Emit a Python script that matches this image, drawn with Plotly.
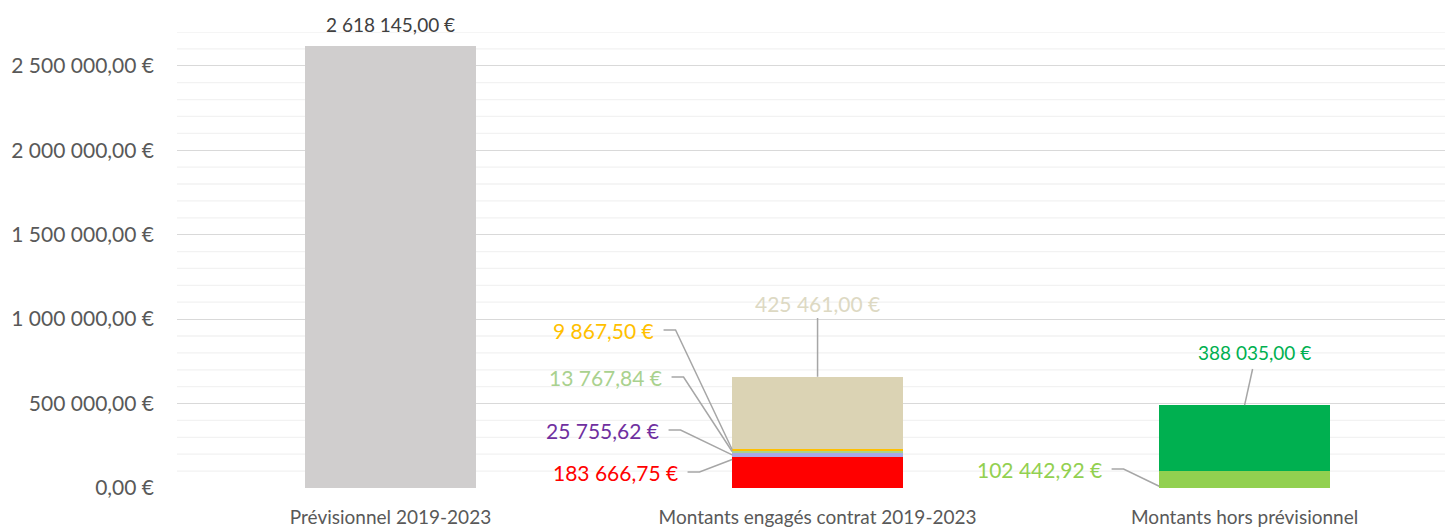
import plotly.graph_objects as go

categories = ["Prévisionnel 2019-2023", "Montants engagés contrat 2019-2023", "Montants hors prévisionnel"]

prev_values = [2618145.00, 0, 0]
red_values = [0, 183666.75, 0]
purple_values = [0, 25755.62, 0]
lightgreen_values = [0, 13767.84, 0]
yellow_values = [0, 9867.50, 0]
beige_values = [0, 425461.00, 0]
hp_light_values = [0, 0, 102442.92]
hp_green_values = [0, 0, 388035.00]

ytick_vals = [0, 500000, 1000000, 1500000, 2000000, 2500000]
ytick_text = ["0,00 €", "500 000,00 €", "1 000 000,00 €", "1 500 000,00 €", "2 000 000,00 €", "2 500 000,00 €"]


def fmt(v):
    s = f"{v:,.2f}"
    ent, dec = s.split(".")
    return ent.replace(",", " ") + "," + dec + " €"


FONT = "Lato"
series = [
    (prev_values, "#d0cece"),
    (red_values, "#ff0000"),
    (purple_values, "#a9a9e4"),
    (lightgreen_values, "#a9d18e"),
    (yellow_values, "#ffc000"),
    (beige_values, "#dbd3b4"),
    (hp_light_values, "#92d050"),
    (hp_green_values, "#00b050"),
]

# page offset (browser body margin) compensation
OFF = 8
xs = [0, 1, 2]
fig = go.Figure()
for vals, col in series:
    fig.add_trace(go.Bar(x=xs, y=vals, marker=dict(color=col, line=dict(width=0)),
                         width=0.4, showlegend=False, hoverinfo="skip"))


def cum_mid(stack, idx, ci):
    base = sum(s[ci] for s in stack[:idx])
    return base + stack[idx][ci] / 2.0


stack2 = [red_values, purple_values, lightgreen_values, yellow_values, beige_values]
stack3 = [hp_light_values, hp_green_values]
top2 = sum(s[1] for s in stack2)
top3 = sum(s[2] for s in stack3)

PXY = 2700000 / 456.0  # value per pixel
PXX = 1.0 / 427.0       # category per pixel
LINE = dict(color="#a6a6a6", width=1.5)
BASE_PX = 488  # page y of zero line
CENTER2_PX = 818

annotations = []
annotations.append(dict(x=0, y=prev_values[0], text=fmt(prev_values[0]), showarrow=False,
                        yshift=21, font=dict(family=FONT, size=19, color="#404040")))

left_labels = [
    (red_values, "#ff0000", 0, 472, 680),
    (purple_values, "#7030a0", 1, 430, 661),
    (lightgreen_values, "#a9d18e", 2, 377, 664),
    (yellow_values, "#ffc000", 3, 330, 656),
]
edge_x = 1 - 0.2
for vals, col, idx, label_y, text_right in left_labels:
    ymid = cum_mid(stack2, idx, 1)
    if idx == 0:
        ymid = vals[1] * 0.92
    label_y_val = (BASE_PX - label_y) * PXY
    tx = 1 + (text_right - CENTER2_PX) * PXX
    fig.add_trace(go.Scatter(x=[tx + 8 * PXX, tx + 20 * PXX, edge_x], y=[label_y_val, label_y_val, ymid],
                             mode="lines", line=LINE, showlegend=False, hoverinfo="skip"))
    annotations.append(dict(x=tx, y=label_y_val, text=fmt(vals[1]), showarrow=False,
                            xanchor="right", font=dict(family=FONT, size=21, color=col)))

beige_label_y = (BASE_PX - 303) * PXY
fig.add_trace(go.Scatter(x=[1, 1], y=[(BASE_PX - 318) * PXY, top2], mode="lines", line=LINE,
                         showlegend=False, hoverinfo="skip"))
annotations.append(dict(x=1, y=beige_label_y, text=fmt(beige_values[1]), showarrow=False,
                        font=dict(family=FONT, size=21, color="#ddd9c3")))

g_label_y = (BASE_PX - 352) * PXY
fig.add_trace(go.Scatter(x=[2 + 8 * PXX, 2], y=[(BASE_PX - 369) * PXY, top3], mode="lines", line=LINE,
                         showlegend=False, hoverinfo="skip"))
annotations.append(dict(x=2 + 10 * PXX, y=g_label_y, text=fmt(hp_green_values[2]), showarrow=False,
                        font=dict(family=FONT, size=19, color="#00b050")))

lg_label_y = (BASE_PX - 469) * PXY
tx3 = 2 + (1104 - 1245) * PXX
fig.add_trace(go.Scatter(x=[tx3 + 8 * PXX, tx3 + 20 * PXX, 2 - 0.2],
                         y=[lg_label_y, lg_label_y, hp_light_values[2] * 0.1],
                         mode="lines", line=LINE, showlegend=False, hoverinfo="skip"))
annotations.append(dict(x=tx3, y=lg_label_y, text=fmt(hp_light_values[2]), showarrow=False,
                        xanchor="right", font=dict(family=FONT, size=21, color="#92d050")))

shapes = []
for k in range(1, 28):
    v = k * 100000
    if v % 500000 == 0:
        continue
    shapes.append(dict(type="line", xref="paper", yref="y", x0=0, x1=1, y0=v, y1=v,
                       line=dict(color="#f2f2f2", width=1.3), layer="below"))

fig.update_layout(
    width=1453 - OFF, height=527 - OFF,
    margin=dict(l=177 - OFF, r=0, t=32 - OFF, b=39, pad=0),
    paper_bgcolor="white", plot_bgcolor="white",
    barmode="stack",
    xaxis=dict(range=[-0.5, 2.488], tickvals=xs, ticktext=categories, showgrid=False,
               zeroline=False, showline=False, ticks="", ticklabelstandoff=16,
               tickfont=dict(family=FONT, size=19, color="#595959")),
    yaxis=dict(range=[0, 2700000], tickvals=ytick_vals, ticktext=ytick_text,
               showgrid=True, gridcolor="#d9d9d9", gridwidth=1.3, zeroline=False,
               tickfont=dict(family=FONT, size=21, color="#595959"), ticks="", ticklabelstandoff=22),
    annotations=annotations,
    shapes=shapes,
)

fig.write_html("out.html")
